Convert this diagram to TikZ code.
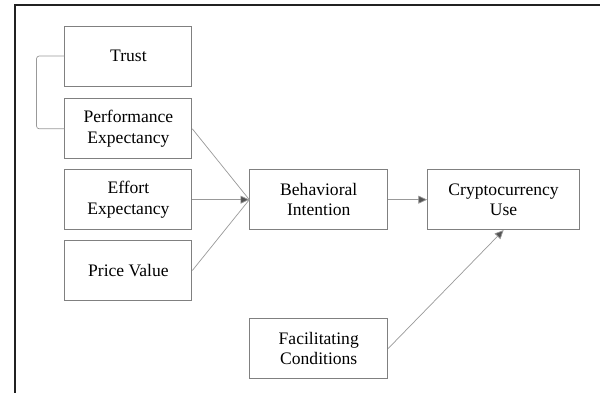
\documentclass[tikz,border=0pt]{standalone}
\usepackage{fontspec}
\setmainfont{Liberation Serif}
\usetikzlibrary{arrows.meta}
\usetikzlibrary{positioning}

\begin{document}
\begin{tikzpicture}[
	box/.style={draw=boxcolor, line width=0.6pt, minimum height=1.5cm, align=center, font=\fontsize{12.5}{14.5}\selectfont},
	link/.style={draw=linkcolor, line width=0.5pt},
	arrow/.style={link, -{Triangle[length=2.2mm, width=2mm, fill=tipcolor]}}
	]

	\definecolor{boxcolor}{rgb}{0.50,0.50,0.50}
	\definecolor{linkcolor}{rgb}{0.60,0.60,0.60}
	\definecolor{tipcolor}{rgb}{0.33,0.33,0.33}
	\definecolor{framecolor}{rgb}{0.13,0.13,0.13}

	\useasboundingbox (0,0) rectangle (15,-9.825);
	\draw [framecolor, line width=1pt] (0.375,-9.825) -- (0.375,-0.125) -- (15,-0.125);

	\node(trust) [box, minimum width=3.175cm] at (3.21,-1.4) {Trust};
	\node(perf) [box, minimum width=3.175cm, below=0.3cm of trust] {Performance\\Expectancy};
	\node(effort) [box, minimum width=3.175cm, below=0.25cm of perf] {Effort\\Expectancy};
	\node(price) [box, minimum width=3.175cm, below=0.25cm of effort] {Price Value};

	\node(intent) [box, minimum width=3.45cm, right=1.425cm of effort] {Behavioral\\Intention};
	\node(use) [box, minimum width=3.8cm, right=0.975cm of intent] {Cryptocurrency\\Use};
	\node(facil) [box, minimum width=3.45cm, below=2.2cm of intent] {Facilitating\\Conditions};

	% bracket between trust and performance expectancy
	\draw [link, rounded corners=2pt] (trust.west) -- ++(-0.7,0) |- (perf.west);

	\draw [link] (perf.east) -- (intent.west);
	\draw [link] (price.east) -- (intent.west);
	\draw [arrow] (effort.east) -- (intent.west);
	\draw [arrow] (intent.east) -- (use.west);
	\draw [arrow] (facil.east) -- (use.south);

\end{tikzpicture}
\end{document}
